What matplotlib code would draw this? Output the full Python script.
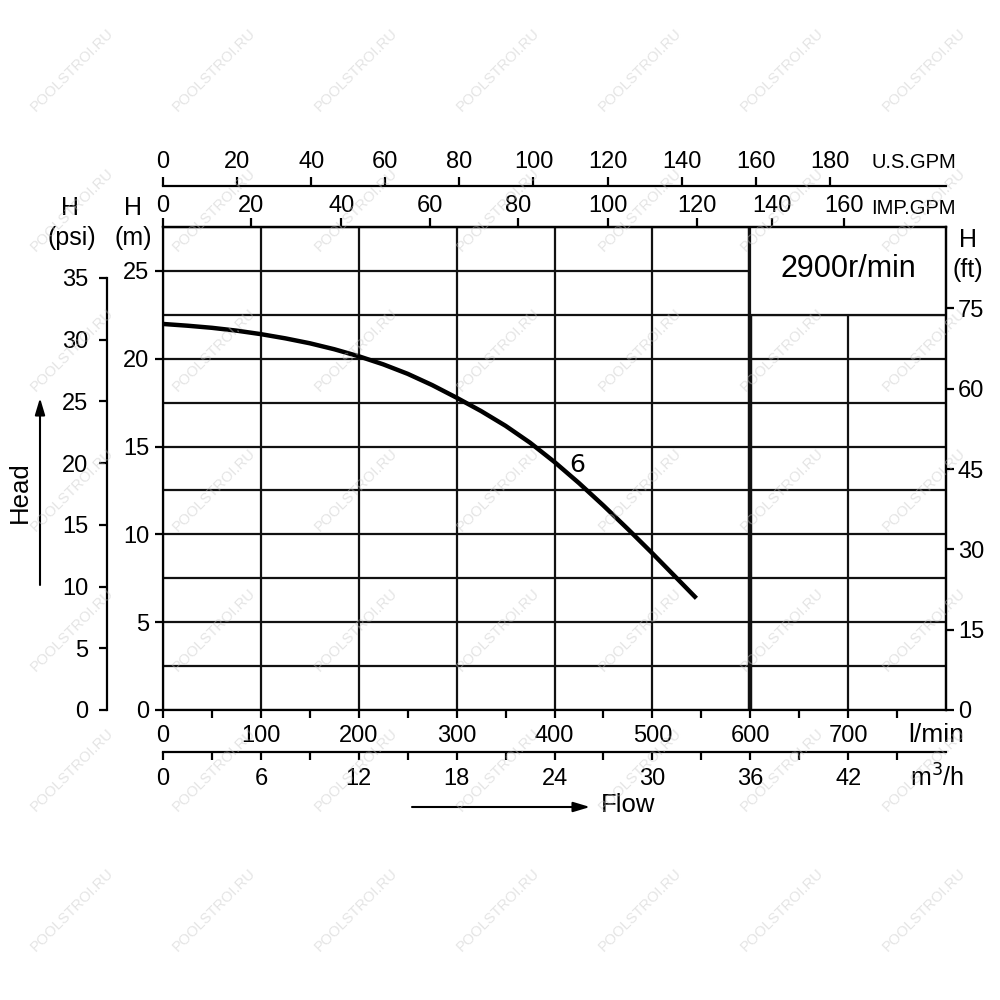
import matplotlib
matplotlib.use("Agg")

import matplotlib.pyplot as plt  # noqa: E402
from matplotlib.patches import FancyArrowPatch, Rectangle  # noqa: E402

# Pump curve 6 at 2900 r/min
flow_lmin = [0, 25, 50, 75, 100, 125, 150, 175, 200, 225, 250, 275, 300,
             325, 350, 375, 400, 425, 450, 475, 500, 525, 545]
head_m = [21.98, 21.88, 21.76, 21.6, 21.4, 21.16, 20.88, 20.54, 20.14,
          19.68, 19.14, 18.5, 17.78, 17.02, 16.18, 15.22, 14.12, 12.92,
          11.64, 10.3, 8.92, 7.5, 6.36]

# axis tick values
lmin_ticks = [0, 100, 200, 300, 400, 500, 600, 700]
m3h_ticks = [0, 6, 12, 18, 24, 30, 36, 42]
m_ticks = [0, 5, 10, 15, 20, 25]
psi_ticks = [0, 5, 10, 15, 20, 25, 30, 35]
ft_ticks = [0, 15, 30, 45, 60, 75]
usgpm_ticks = [0, 20, 40, 60, 80, 100, 120, 140, 160, 180]
# IMP.GPM labels and where the chart puts them (in l/min)
impgpm_labels = [0, 20, 40, 60, 80, 100, 120, 140, 160]
impgpm_pos_lmin = [0, 90, 182, 273, 363, 455, 546, 622, 696]

LW = 1.6
FS = 17
INK = "#111111"
plt.rcParams.update({
    "font.family": ["Liberation Sans", "DejaVu Sans"],
    "font.size": FS,
    "axes.linewidth": LW,
    "xtick.major.width": LW,
    "ytick.major.width": LW,
    "xtick.minor.width": LW,
    "ytick.minor.width": LW,
})

fig = plt.figure(figsize=(10, 10), dpi=100)
ax = fig.add_axes([0.163, 0.29, 0.783, 0.483])
ax.set_xlim(0, 800)
ax.set_ylim(0, 27.5)
ax.set_axisbelow(True)

# grid
ax.set_xticks(lmin_ticks)
ax.set_xticks([50 + 100 * i for i in range(8)], minor=True)
ax.set_yticks(m_ticks)
ax.set_yticks([2.5 + 5 * i for i in range(6)], minor=True)
ax.grid(axis="x", which="major", color=INK, lw=LW)
ax.grid(axis="y", which="both", color=INK, lw=LW)
ax.axvline(600, color=INK, lw=3.2, zorder=1.5)

ax.tick_params(axis="x", which="both", direction="out", length=5.5, pad=5,
               top=False)
ax.tick_params(axis="y", which="major", direction="out", length=6, pad=4)
ax.tick_params(axis="y", which="minor", length=0)

# speed box in the top-right corner
ax.add_patch(Rectangle((600, 22.5), 200, 5.0, facecolor="white",
                       edgecolor=INK, lw=LW, zorder=2))
ax.text(700, 25.1, "2900r/min", ha="center", va="center", fontsize=22,
        zorder=3)

# the curve
ax.plot(flow_lmin, head_m, color="black", lw=3.2, zorder=4,
        solid_capstyle="butt", solid_joinstyle="round")
ax.text(423, 13.95, "6", ha="center", va="center", fontsize=18,
        family="DejaVu Sans", zorder=4)

# bottom m3/h axis
sec_m3h = ax.secondary_xaxis(-0.087, functions=(lambda q: q * 0.06,
                                                 lambda q: q / 0.06))
sec_m3h.set_xticks(m3h_ticks)
sec_m3h.set_xticks([3 + 6 * i for i in range(8)], minor=True)
sec_m3h.tick_params(which="both", direction="out", length=5.5, pad=6)

# top IMP.GPM axis (on the frame)
sec_imp = ax.secondary_xaxis("top")
sec_imp.set_xticks(impgpm_pos_lmin, [str(v) for v in impgpm_labels])
sec_imp.tick_params(direction="out", length=6.5, pad=1)

# top U.S.GPM axis
sec_us = ax.secondary_xaxis(1.085, functions=(lambda q: q / 3.785,
                                               lambda g: g * 3.785))
sec_us.set_xticks(usgpm_ticks)
sec_us.tick_params(direction="out", length=6.5, pad=3)

# left psi axis
sec_psi = ax.secondary_yaxis(-0.0715, functions=(lambda h: h / 0.70307,
                                                  lambda p: p * 0.70307))
sec_psi.set_yticks(psi_ticks)
sec_psi.spines["left"].set_bounds(0, 35)
sec_psi.tick_params(direction="out", length=5.5, pad=8)

# right ft axis
sec_ft = ax.secondary_yaxis("right", functions=(lambda h: h / 0.3048,
                                                 lambda f: f * 0.3048))
sec_ft.set_yticks(ft_ticks)
sec_ft.tick_params(direction="out", length=5.5, pad=3)

# unit labels
fig.text(0.070, 0.792, "H", ha="center", va="center", fontsize=18)
fig.text(0.072, 0.762, "(psi)", ha="center", va="center", fontsize=18)
fig.text(0.133, 0.792, "H", ha="center", va="center", fontsize=18)
fig.text(0.133, 0.762, "(m)", ha="center", va="center", fontsize=18)
fig.text(0.968, 0.760, "H", ha="center", va="center", fontsize=18)
fig.text(0.968, 0.730, "(ft)", ha="center", va="center", fontsize=18)
fig.text(0.956, 0.838, "U.S.GPM", ha="right", va="center", fontsize=14.5)
fig.text(0.956, 0.792, "IMP.GPM", ha="right", va="center", fontsize=14.5)
fig.text(0.964, 0.265, "l/min", ha="right", va="center", fontsize=19)
fig.text(0.964, 0.222, "m$^3$/h", ha="right", va="center", fontsize=18)

# Head / Flow arrows
fig.add_artist(FancyArrowPatch(
    (0.040, 0.415), (0.040, 0.602), transform=fig.transFigure,
    arrowstyle="-|>,head_length=10,head_width=3", lw=1.5, color="black",
    shrinkA=0, shrinkB=0))
fig.text(0.020, 0.508, "Head", rotation=90, ha="center", va="center",
         fontsize=18.5)
fig.add_artist(FancyArrowPatch(
    (0.412, 0.193), (0.590, 0.193), transform=fig.transFigure,
    arrowstyle="-|>,head_length=10,head_width=3", lw=1.5, color="black",
    shrinkA=0, shrinkB=0))
fig.text(0.601, 0.195, "Flow", ha="left", va="center", fontsize=18.5)

# watermark
for wx in [0.072, 0.214, 0.356, 0.498, 0.640, 0.782, 0.924]:
    for wy in [0.930, 0.790, 0.650, 0.510, 0.370, 0.230, 0.090]:
        fig.text(wx, wy, "POOLSTROI.RU", rotation=45, ha="center",
                 va="center", fontsize=10.5, color="#c4c4c4", alpha=0.45,
                 zorder=10)

fig.savefig("out.png", dpi=100, facecolor="white")
